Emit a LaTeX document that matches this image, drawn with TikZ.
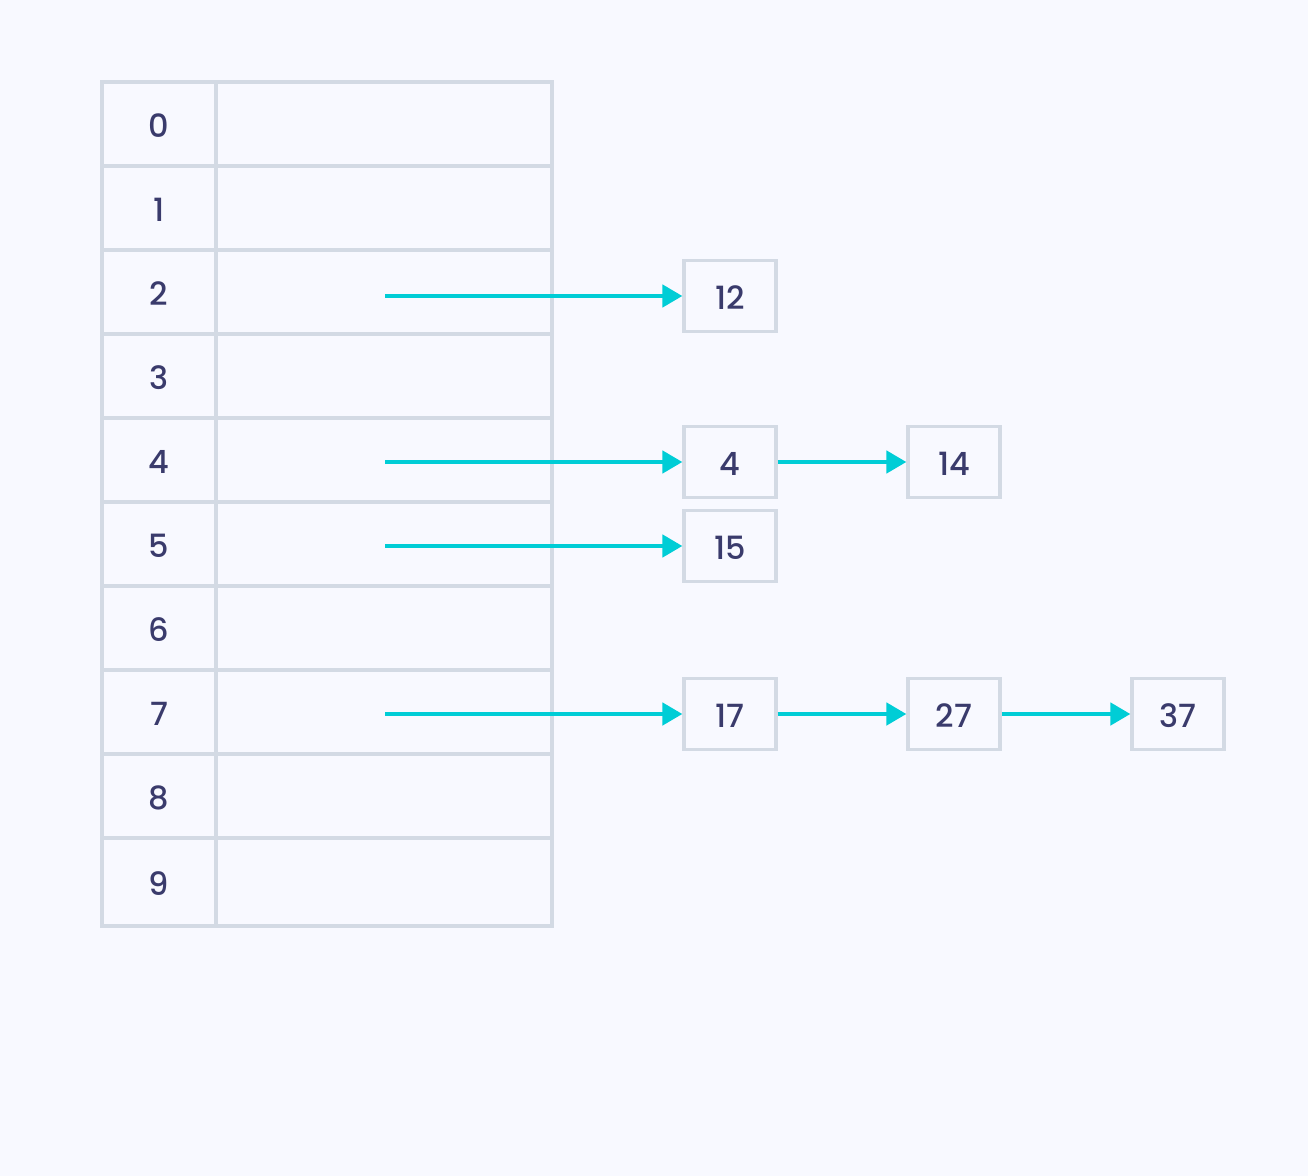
\documentclass[tikz,border=0pt]{standalone}
\usepackage{fontspec}
\setmainfont{Poppins}[UprightFont=* Medium]
\usetikzlibrary{arrows.meta}
\definecolor{bg}{HTML}{F8F9FF}
\definecolor{grid}{HTML}{D3DAE4}
\definecolor{txt}{HTML}{3A3B6C}
\definecolor{arr}{HTML}{00CDD6}
\tikzset{
  cell/.style={draw=grid, line width=2.6pt, inner sep=0pt, text=txt,
    text height=20pt, text depth=0pt,
    font=\fontsize{24}{28}\selectfont},
  idx/.style={cell, minimum width=114*0.75pt, minimum height=84*0.75pt},
  val/.style={cell, minimum width=336*0.75pt, minimum height=84*0.75pt},
  item/.style={cell, minimum width=92*0.75pt, minimum height=71*0.75pt},
  link/.style={draw=arr, line width=2.3pt, -{Triangle[length=15pt,width=17pt]}}
}
\begin{document}
\begin{tikzpicture}[x=0.75pt,y=-0.75pt]
\fill[bg] (0,0) rectangle (1308,1176);
\useasboundingbox (0,0) rectangle (1308,1176);
% table rows
\foreach \i in {0,...,8} {
  \node[idx] (i\i) at (159,124+84*\i) {\i};
  \node[val] (v\i) at (384,124+84*\i) {};
}
\node[idx, minimum height=88*0.75pt] (i9) at (159,882) {9};
\node[val, minimum height=88*0.75pt] (v9) at (384,882) {};
% list items
\node[item] (n12) at (730,296) {12};
\node[item] (n4)  at (730,462) {4};
\node[item] (n14) at (954,462) {14};
\node[item] (n15) at (730,546) {15};
\node[item] (n17) at (730,714) {17};
\node[item] (n27) at (954,714) {27};
\node[item] (n37) at (1178,714) {37};
% start points
\coordinate (s2) at (385,296);
\coordinate (s4) at (385,462);
\coordinate (s5) at (385,546);
\coordinate (s7) at (385,714);
\draw[link] (s2) -- (n12.west);
\draw[link] (s4) -- (n4.west);
\draw[link] (n4.east) -- (n14.west);
\draw[link] (s5) -- (n15.west);
\draw[link] (s7) -- (n17.west);
\draw[link] (n17.east) -- (n27.west);
\draw[link] (n27.east) -- (n37.west);
\end{tikzpicture}
\end{document}
